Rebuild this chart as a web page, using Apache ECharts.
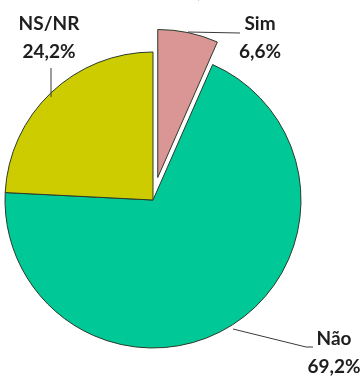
<!DOCTYPE html>
<html>
<head>
<meta charset="utf-8">
<style>
  html, body { margin: 0; padding: 0; background: #ffffff; }
  #chart { width: 363px; height: 376px; }
</style>
<script src="https://cdn.jsdelivr.net/npm/echarts@6/dist/echarts.min.js"></script>
</head>
<body>
<div id="chart"></div>
<script>
// Answer categories and their shares (%)
const categories = ['Sim', 'Não', 'NS/NR'];
const shares = [6.6, 69.2, 24.2];
const sliceColors = ['#D99694', '#00C896', '#CCCC00'];

// Where each two-line label sits (centre of name line) and its leader line
const labelSpots = [
  { x: 260, y: 24, line: [[188, 32], [240, 33]] },
  { x: 334, y: 339, line: [[233, 329], [306, 347], [313, 347]] },
  { x: 49, y: 24, line: [[51, 97], [51, 68]] }
];
const lineGap = 28;

const fmt = v => v.toFixed(1).replace('.', ',') + '%';
const labelFont = 'bold 19px Lato, "Open Sans", sans-serif';

const labelGraphics = [];
categories.forEach((c, i) => {
  const s = labelSpots[i];
  labelGraphics.push({
    type: 'polyline',
    shape: { points: s.line },
    style: { stroke: '#3a3a3a', lineWidth: 1, fill: null },
    z: 10
  });
  [c, fmt(shares[i])].forEach((t, k) => {
    labelGraphics.push({
      type: 'text',
      x: s.x,
      y: s.y + k * lineGap,
      style: {
        text: t,
        font: labelFont,
        fill: '#1e1e1e',
        align: 'center',
        verticalAlign: 'middle'
      },
      z: 10
    });
  });
});

const chart = echarts.init(document.getElementById('chart'), null, { renderer: 'canvas' });

chart.setOption({
  animation: false,
  graphic: [{
    type: 'text',
    x: 193,
    y: -19,
    style: { text: '(', font: '20px "Liberation Serif"', fill: '#000' }
  }].concat(labelGraphics),
  series: [{
    type: 'pie',
    center: [153, 200],
    radius: 148,
    startAngle: 90,
    clockwise: true,
    selectedMode: 'multiple',
    selectedOffset: 23,
    avoidLabelOverlap: false,
    data: categories.map((c, i) => ({
      name: c,
      value: shares[i],
      selected: i === 0,
      itemStyle: { color: sliceColors[i] }
    })),
    itemStyle: { borderColor: '#2a3a2a', borderWidth: 1 },
    emphasis: { disabled: true },
    label: { show: false },
    labelLine: { show: false }
  }]
});
</script>
</body>
</html>
